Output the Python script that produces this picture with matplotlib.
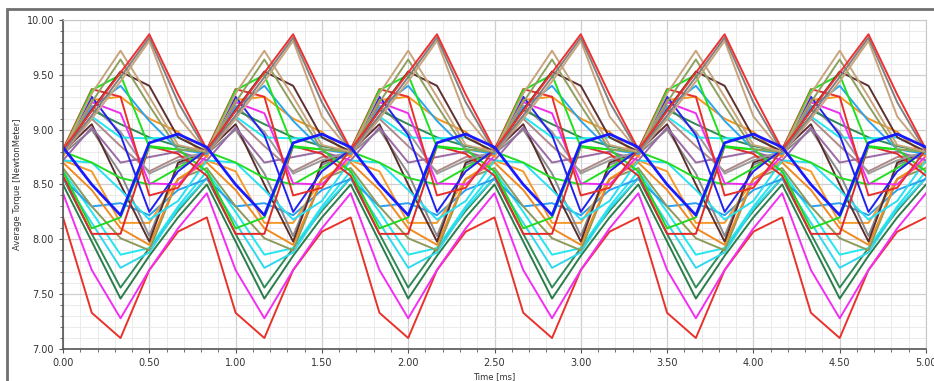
import numpy as np
import matplotlib.pyplot as plt
from matplotlib.patches import Rectangle
from matplotlib.ticker import MultipleLocator

# time samples (ms): 6 samples per 1 ms, one period = 5 samples
t = np.arange(31) / 6.0

# one period of each curve (values at 0, 1/6, 2/6, 3/6, 4/6 ms), repeated
red_peak = [8.82, 9.17, 9.52, 9.87, 9.32]
gray_peak = [8.80, 9.13, 9.48, 9.84, 9.25]
tan_peak = [8.80, 9.10, 9.44, 9.81, 9.12]
tan_hi = [8.80, 9.33, 9.72, 9.30, 8.86]
olive_hi = [8.80, 9.25, 9.64, 9.22, 8.82]
brown_hi = [8.80, 9.18, 9.53, 9.40, 8.93]
lime_hi = [8.80, 9.36, 9.50, 8.84, 8.82]
dodger_hi = [8.78, 9.20, 9.40, 9.08, 8.82]
orange_hi = [8.75, 9.27, 9.30, 9.10, 8.98]
red_hi = [8.82, 9.37, 9.30, 8.40, 8.47]
blue_hi = [8.82, 9.30, 8.95, 8.25, 8.62]
blue_thick = [8.84, 8.50, 8.22, 8.88, 8.96]
magenta_hi = [8.76, 9.25, 9.15, 8.51, 8.50]
cyan_hi = [8.80, 9.12, 8.93, 8.92, 8.93]
gray_mid = [8.80, 9.22, 8.98, 8.60, 8.72]
brown_mid = [8.80, 9.05, 8.50, 7.98, 8.70]
gray_low = [8.78, 9.00, 8.60, 8.03, 8.68]
orange_low = [8.70, 8.45, 8.10, 7.95, 8.55]
olive_low = [8.65, 8.30, 8.01, 7.90, 8.55]
orange_flat = [8.72, 8.62, 8.15, 8.15, 8.55]
red_flat = [8.58, 8.05, 8.05, 8.85, 8.78]
lime_low = [8.62, 8.10, 8.20, 8.85, 8.82]
lime_mid = [8.80, 8.70, 8.56, 8.50, 8.65]
dodger_low = [8.55, 8.30, 8.33, 8.22, 8.45]
green_mid = [8.80, 9.18, 9.05, 8.93, 8.85]
cyan_mid = [8.72, 8.70, 8.45, 8.18, 8.35]
purple_mid = [8.72, 9.02, 8.70, 8.75, 8.80]
rosy_mid = [8.78, 9.10, 8.85, 8.62, 8.75]
cyan_low1 = [8.62, 8.25, 7.86, 7.92, 8.30]
cyan_low2 = [8.56, 8.15, 7.74, 7.88, 8.28]
sea_low1 = [8.56, 8.05, 7.56, 7.92, 8.26]
sea_low2 = [8.50, 7.98, 7.46, 7.85, 8.20]
magenta_low = [8.42, 7.72, 7.28, 7.72, 8.10]
red_low = [8.20, 7.33, 7.10, 7.72, 8.07]

curves = [
    (red_low, '#e8322c'), (magenta_low, '#f22ef2'),
    (sea_low1, '#2f8a55'), (sea_low2, '#2a7d4b'),
    (cyan_low1, '#22e6f0'), (cyan_low2, '#30d8ee'),
    (dodger_low, '#2aa0ee'), (orange_flat, '#f59a2a'),
    (olive_low, '#8c9a5a'), (orange_low, '#f08a20'),
    (gray_low, '#8a8a8a'), (brown_mid, '#5a2e2e'),
    (cyan_mid, '#28e0f2'), (lime_mid, '#22dd22'),
    (rosy_mid, '#b08888'), (purple_mid, '#9a6aa6'),
    (red_flat, '#e02828'), (lime_low, '#20d820'),
    (gray_mid, '#9a9a9a'), (green_mid, '#2f8a55'),
    (cyan_hi, '#20e8f0'), (magenta_hi, '#f02ef0'),
    (orange_hi, '#f7941d'), (dodger_hi, '#2aa6f0'),
    (blue_hi, '#2222ee'), (red_hi, '#e8302a'),
    (lime_hi, '#1ee01e'), (brown_hi, '#5e3030'),
    (olive_hi, '#8f9f60'), (tan_hi, '#c8a47c'),
    (tan_peak, '#c8a47c'), (gray_peak, '#808080'),
    (red_peak, '#ee3030'),
]

fig = plt.figure(figsize=(9.34, 3.81), dpi=100)
ax = fig.add_axes([63 / 934, 1 - 349 / 381, 863 / 934, 329 / 381])

for vals, col in curves:
    y = np.tile(vals, 7)[:31]
    ax.plot(t, y, color=col, lw=1.4)

y = np.tile(blue_thick, 7)[:31]
ax.plot(t, y, color='#1a1aff', lw=2.0)

ax.set_xlim(0, 5)
ax.set_ylim(7, 10)
ax.xaxis.set_major_locator(MultipleLocator(0.5))
ax.xaxis.set_minor_locator(MultipleLocator(0.1))
ax.yaxis.set_major_locator(MultipleLocator(0.5))
ax.yaxis.set_minor_locator(MultipleLocator(0.1))
ax.xaxis.set_major_formatter(lambda v, p: f'{v:.2f}')
ax.yaxis.set_major_formatter(lambda v, p: f'{v:.2f}')
ax.grid(which='major', color='#cfcfcf', lw=0.9)
ax.grid(which='minor', color='#e8e8e8', lw=0.6)
ax.set_axisbelow(True)
ax.tick_params(which='both', direction='out', color='#555555', labelsize=7, labelcolor='#333333')
ax.tick_params(which='major', length=3)
ax.tick_params(which='minor', length=2)
for s in ['top', 'right']:
    ax.spines[s].set_color('#c8c8c8')
for s in ['left', 'bottom']:
    ax.spines[s].set_color('#555555')
    ax.spines[s].set_linewidth(1.2)

ax.set_xlabel('Time [ms]', fontsize=6, color='#333333', labelpad=3)
ax.set_ylabel('Average Torque [NewtonMeter]', fontsize=6, color='#333333', labelpad=3)

# window frame
fig.patches.append(Rectangle((7 / 934, -0.05), 1.0, 1 - 9 / 381 + 0.05,
                             transform=fig.transFigure, fill=False,
                             edgecolor='#707070', lw=2))

fig.savefig('out.png', dpi=100)
